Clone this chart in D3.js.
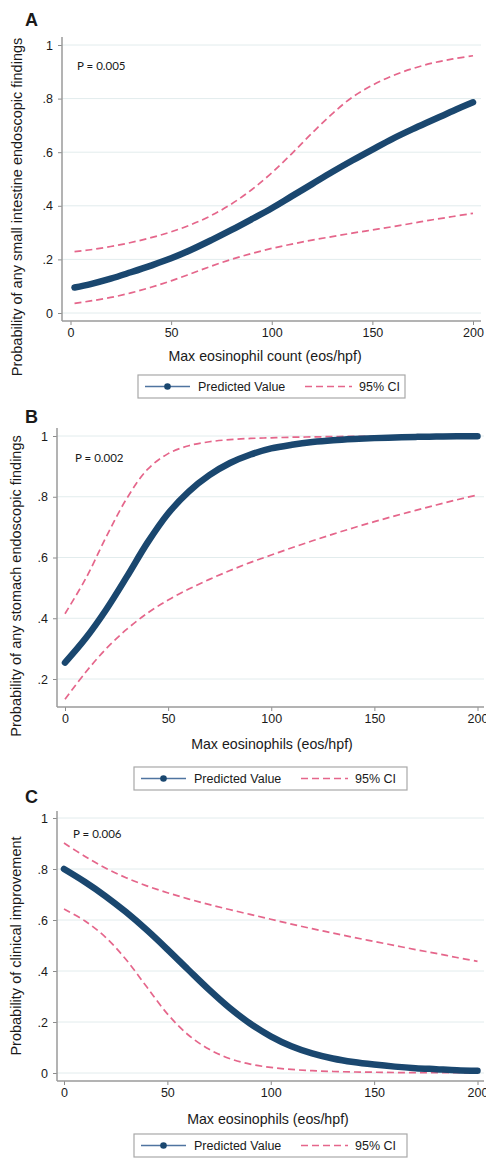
<!DOCTYPE html>
<html>
<head>
<meta charset="utf-8">
<script src="https://cdn.jsdelivr.net/npm/d3@7"></script>
<style>
  body { margin: 0; background: #fff; }
  text { font-family: "Liberation Sans", Arial, sans-serif; fill: #1a1a1a; }
  .pval { font-family: Lato, "Open Sans", sans-serif; }
</style>
</head>
<body>
<div id="chart"></div>
<script>
var svgWidth = 486;
var svgHeight = 1159;

// panel A - small intestine
var aX = [2, 10, 20, 30, 40, 50, 60, 70, 80, 90, 100, 110, 120, 130, 140, 150, 160, 170, 180, 190, 200];
var aPred = [0.095, 0.108, 0.128, 0.152, 0.177, 0.204, 0.236, 0.272, 0.310, 0.350, 0.391, 0.436, 0.481, 0.526, 0.569, 0.610, 0.650, 0.686, 0.720, 0.754, 0.786];
var aUpper = [0.229, 0.236, 0.248, 0.263, 0.281, 0.303, 0.330, 0.364, 0.407, 0.460, 0.523, 0.595, 0.671, 0.743, 0.805, 0.850, 0.885, 0.912, 0.933, 0.948, 0.960];
var aLower = [0.036, 0.045, 0.058, 0.075, 0.096, 0.120, 0.147, 0.175, 0.200, 0.222, 0.241, 0.257, 0.272, 0.285, 0.298, 0.310, 0.322, 0.335, 0.348, 0.360, 0.372];

// panel B - stomach
var bX = [0, 10, 20, 30, 40, 50, 60, 70, 80, 90, 100, 110, 120, 130, 140, 150, 160, 170, 180, 190, 200];
var bPred = [0.254, 0.334, 0.429, 0.537, 0.649, 0.745, 0.817, 0.871, 0.911, 0.939, 0.959, 0.971, 0.980, 0.986, 0.990, 0.993, 0.995, 0.997, 0.998, 0.999, 0.999];
var bUpper = [0.415, 0.530, 0.668, 0.795, 0.890, 0.942, 0.968, 0.981, 0.988, 0.992, 0.994, 0.996, 0.997, 0.998, 0.999, 0.999, 1.0, 1.0, 1.0, 1.0, 1.0];
var bLower = [0.133, 0.222, 0.300, 0.364, 0.417, 0.460, 0.496, 0.528, 0.557, 0.584, 0.608, 0.632, 0.655, 0.677, 0.698, 0.718, 0.737, 0.755, 0.773, 0.790, 0.806];

// panel C - clinical improvement
var cX = [0, 10, 20, 30, 40, 50, 60, 70, 80, 90, 100, 110, 120, 130, 140, 150, 160, 170, 180, 190, 200];
var cPred = [0.800, 0.750, 0.694, 0.631, 0.561, 0.485, 0.406, 0.328, 0.256, 0.194, 0.144, 0.105, 0.077, 0.057, 0.043, 0.033, 0.025, 0.019, 0.015, 0.011, 0.009];
var cUpper = [0.902, 0.850, 0.804, 0.766, 0.734, 0.707, 0.683, 0.661, 0.641, 0.622, 0.603, 0.584, 0.566, 0.549, 0.532, 0.516, 0.500, 0.484, 0.469, 0.453, 0.438];
var cLower = [0.643, 0.597, 0.533, 0.445, 0.338, 0.232, 0.150, 0.094, 0.057, 0.035, 0.022, 0.014, 0.009, 0.006, 0.004, 0.003, 0.002, 0.001, 0.001, 0.001, 0.0005];

var xTicks = [0, 50, 100, 150, 200];
var yTicksFull = [0, 0.2, 0.4, 0.6, 0.8, 1];
var yTicksB = [0.2, 0.4, 0.6, 0.8, 1];
var legendLabels = ["Predicted Value", "95% CI"];

var navy = "#1a476f";
var pink = "#e5668b";

var svg = d3.select("#chart")
    .append("svg")
    .attr("width", svgWidth)
    .attr("height", svgHeight);

function yFormat(v) {
    if (v === 0) return "0";
    if (v === 1) return "1";
    return d3.format(".1f")(v).replace(/^0/, "");
}

function drawPanel(p) {
    var g = svg.append("g");

    var xScale = d3.scaleLinear().domain([0, 200]).range([p.x0, p.x200]);
    var yScale = d3.scaleLinear().domain(p.yDom).range(p.yRange);

    // grid lines
    g.append("g")
        .selectAll("line")
        .data(p.yTicks)
        .enter()
        .append("line")
        .attr("x1", p.left)
        .attr("x2", p.right)
        .attr("y1", d => yScale(d))
        .attr("y2", d => yScale(d))
        .attr("stroke", "#e2eced")
        .attr("stroke-width", 1);

    // axes
    var leftAxis = d3.axisLeft(yScale)
        .tickValues(p.yTicks)
        .tickFormat(yFormat)
        .tickSize(4)
        .tickPadding(5);
    var bottomAxis = d3.axisBottom(xScale)
        .tickValues(xTicks)
        .tickSize(4)
        .tickPadding(3);

    var yAx = g.append("g")
        .attr("transform", `translate(${p.left}, 0)`)
        .call(leftAxis);
    var xAx = g.append("g")
        .attr("transform", `translate(0, ${p.bottom})`)
        .call(bottomAxis);

    [yAx, xAx].forEach(function(ax) {
        ax.select(".domain").remove();
        ax.selectAll(".tick line").attr("stroke", "#8c8c8c").attr("stroke-width", 1);
        ax.selectAll(".tick text").attr("font-size", "12.5px").attr("fill", "#1a1a1a");
    });

    // axis lines spanning the plot region
    g.append("line")
        .attr("x1", p.left).attr("x2", p.left)
        .attr("y1", p.top).attr("y2", p.bottom)
        .attr("stroke", "#9a9a9a").attr("stroke-width", 1.5);
    g.append("line")
        .attr("x1", p.left).attr("x2", p.right)
        .attr("y1", p.bottom).attr("y2", p.bottom)
        .attr("stroke", "#9a9a9a").attr("stroke-width", 1.5);

    var line = d3.line()
        .x(d => xScale(d[0]))
        .y(d => yScale(d[1]))
        .curve(d3.curveCatmullRom.alpha(0.5));

    var zip = (xs, ys) => xs.map((x, i) => [x, ys[i]]);

    g.append("path")
        .datum(zip(p.xs, p.upper))
        .attr("d", line)
        .attr("fill", "none")
        .attr("stroke", pink)
        .attr("stroke-width", 1.7)
        .attr("stroke-dasharray", "7,4");
    g.append("path")
        .datum(zip(p.xs, p.lower))
        .attr("d", line)
        .attr("fill", "none")
        .attr("stroke", pink)
        .attr("stroke-width", 1.7)
        .attr("stroke-dasharray", "7,4");
    g.append("path")
        .datum(zip(p.xs, p.pred))
        .attr("d", line)
        .attr("fill", "none")
        .attr("stroke", navy)
        .attr("stroke-width", 6.5)
        .attr("stroke-linecap", "round");

    // panel letter
    g.append("text")
        .attr("x", 25)
        .attr("y", p.letterY)
        .attr("font-size", "18px")
        .attr("font-weight", "bold")
        .attr("fill", "#111")
        .text(p.letter);

    // p value
    g.append("text")
        .attr("class", "pval")
        .attr("x", p.pX)
        .attr("y", p.pY)
        .attr("font-size", "11.5px")
        .text(p.pText);

    // axis titles
    g.append("text")
        .attr("x", p.xTitleX)
        .attr("y", p.xTitleY)
        .attr("text-anchor", "middle")
        .attr("font-size", "14.2px")
        .text(p.xTitle);
    g.append("text")
        .attr("transform", `translate(${p.yTitleX}, ${p.yTitleY}) rotate(-90)`)
        .attr("text-anchor", "middle")
        .attr("font-size", "14.5px")
        .text(p.yTitle);

    // legend
    var lg = g.append("g").attr("transform", `translate(${p.legX}, ${p.legY})`);
    lg.append("rect")
        .attr("width", p.legW)
        .attr("height", 23)
        .attr("fill", "#fff")
        .attr("stroke", "#a8a8a8")
        .attr("stroke-width", 1.2);
    lg.append("line")
        .attr("x1", 7).attr("x2", 52)
        .attr("y1", 11.5).attr("y2", 11.5)
        .attr("stroke", "#4f74a0").attr("stroke-width", 1.5);
    lg.append("circle")
        .attr("cx", 29.5).attr("cy", 11.5).attr("r", 3.3)
        .attr("fill", navy);
    lg.append("text")
        .attr("x", 60).attr("y", 16)
        .attr("font-size", "12.5px")
        .text(legendLabels[0]);
    lg.append("line")
        .attr("x1", 167).attr("x2", 214)
        .attr("y1", 11.5).attr("y2", 11.5)
        .attr("stroke", pink).attr("stroke-width", 1.6)
        .attr("stroke-dasharray", "7,4");
    lg.append("text")
        .attr("x", 221).attr("y", 16)
        .attr("font-size", "12.5px")
        .text(legendLabels[1]);
}

drawPanel({
    letter: "A", letterY: 26,
    xs: aX, pred: aPred, upper: aUpper, lower: aLower,
    x0: 70.5, x200: 473, yDom: [0, 1], yRange: [313, 45],
    left: 62, right: 481, top: 37, bottom: 321,
    yTicks: yTicksFull,
    pText: "P = 0.005", pX: 77, pY: 70,
    xTitle: "Max eosinophil count (eos/hpf)", xTitleX: 265, xTitleY: 361,
    yTitle: "Probability of any small intestine endoscopic findings", yTitleX: 22, yTitleY: 207,
    legX: 138, legY: 375, legW: 267
});

drawPanel({
    letter: "B", letterY: 423,
    xs: bX, pred: bPred, upper: bUpper, lower: bLower,
    x0: 65, x200: 477.5, yDom: [0.2, 1], yRange: [679, 436],
    left: 57, right: 484, top: 428, bottom: 707,
    yTicks: yTicksB,
    pText: "P = 0.002", pX: 75, pY: 462,
    xTitle: "Max eosinophils (eos/hpf)", xTitleX: 272, xTitleY: 749,
    yTitle: "Probability of any stomach endoscopic findings", yTitleX: 21, yTitleY: 586,
    legX: 134, legY: 767, legW: 273
});

drawPanel({
    letter: "C", letterY: 803,
    xs: cX, pred: cPred, upper: cUpper, lower: cLower,
    x0: 64, x200: 477.5, yDom: [0, 1], yRange: [1073, 818],
    left: 57, right: 484, top: 811, bottom: 1081,
    yTicks: yTicksFull,
    pText: "P = 0.006", pX: 73, pY: 838,
    xTitle: "Max eosinophils (eos/hpf)", xTitleX: 268, xTitleY: 1124,
    yTitle: "Probability of clinical improvement", yTitleX: 21, yTitleY: 946,
    legX: 134, legY: 1134, legW: 273
});
</script>
</body>
</html>
